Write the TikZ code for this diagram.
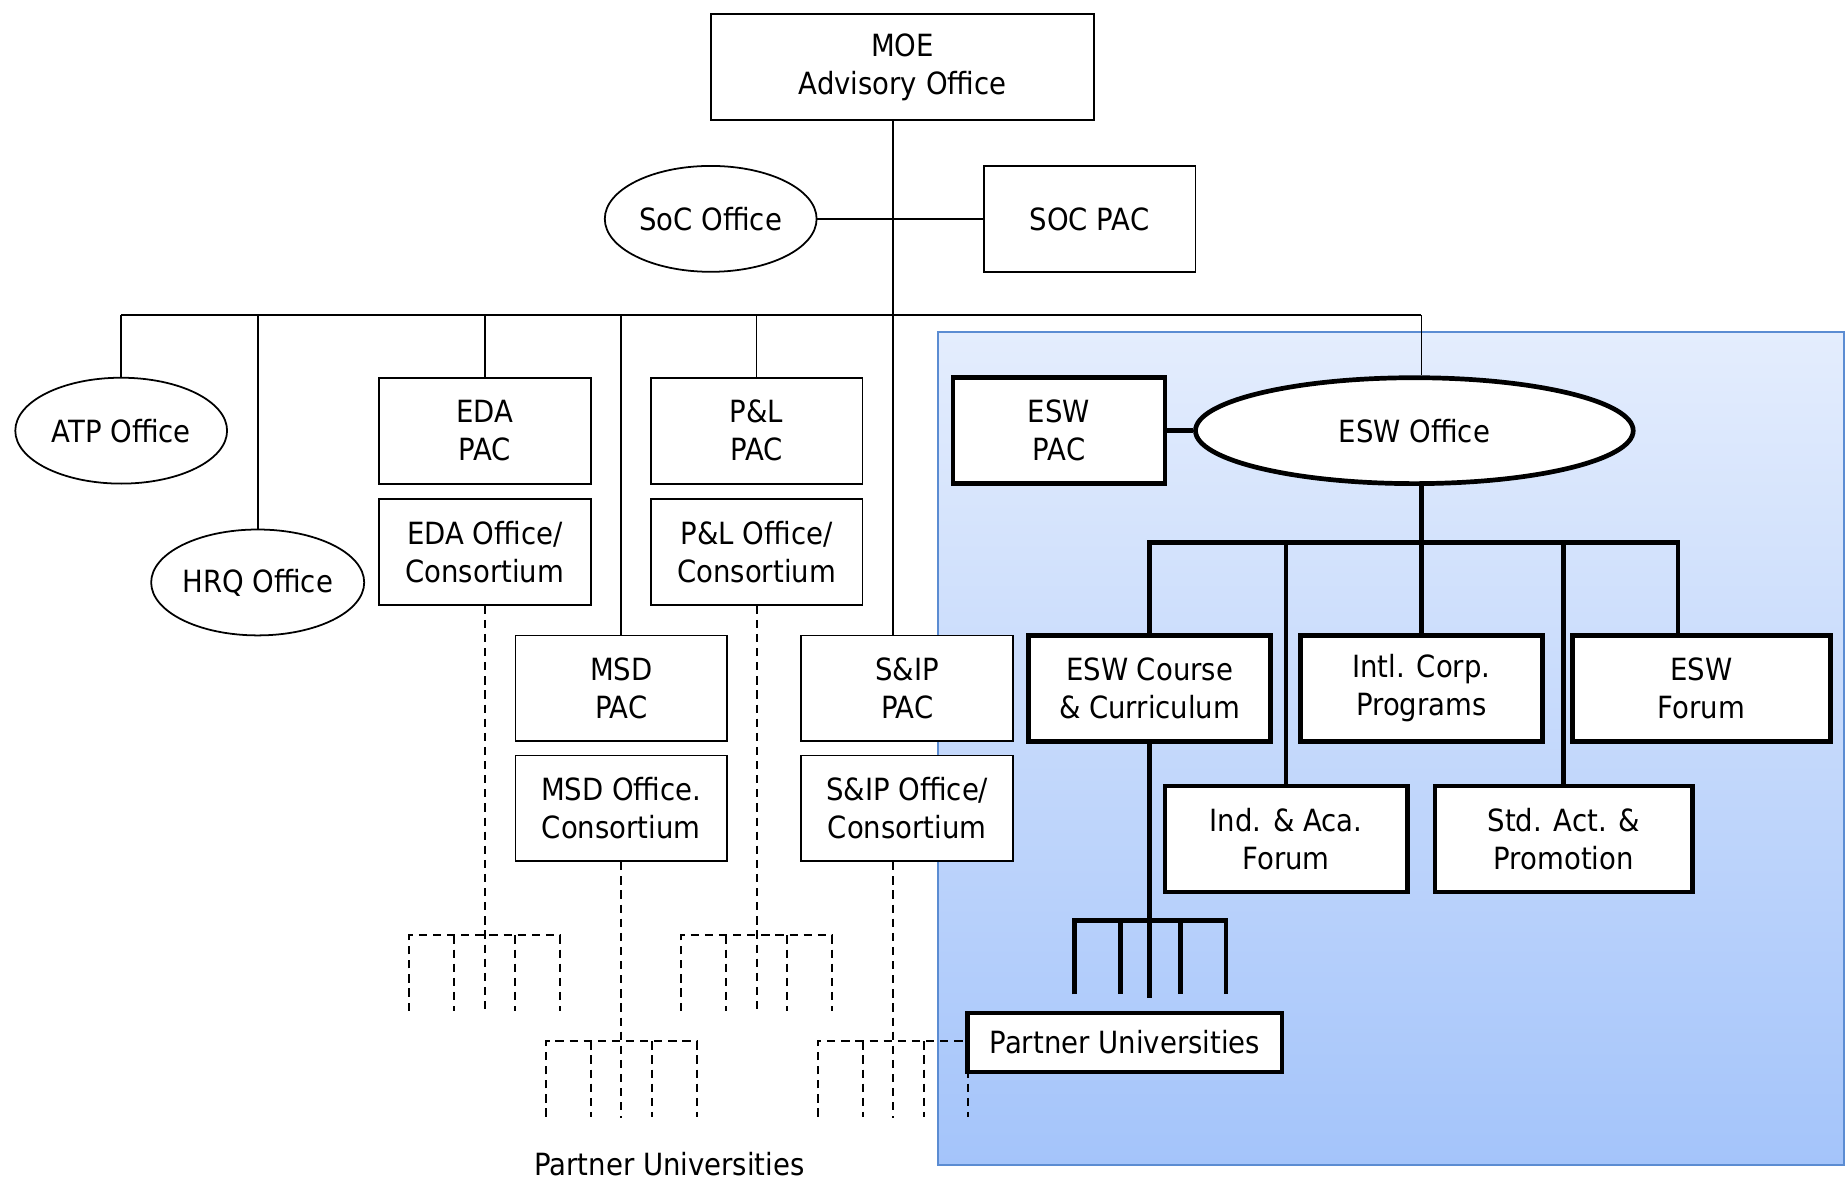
\documentclass[tikz,border=0pt]{standalone}
\usepackage{fontspec}
\setmainfont{DejaVu Sans}[FakeStretch=0.9]
\usetikzlibrary{positioning,shapes,calc}
\definecolor{eswtop}{RGB}{228,237,253}
\definecolor{eswbot}{RGB}{164,196,250}
\definecolor{eswedge}{RGB}{91,140,210}

\begin{document}
\begin{tikzpicture}[x=1pt,y=-1pt]
    \tikzstyle{every node}=[align=center,inner sep=0,font=\fontsize{26}{32}\selectfont]
    \tikzstyle{unit}=[draw,rectangle,fill=white,line width=1.5,minimum width=180,minimum height=90]
    \tikzstyle{office}=[draw,ellipse,fill=white,line width=1.5,minimum width=180,minimum height=90]
    \tikzstyle{link}=[line width=1.5]
    \tikzstyle{heavy}=[line width=4]
    \tikzstyle{weaklink}=[line width=1.7,dash pattern=on 7 off 5]
    \useasboundingbox (0,0) rectangle (1568,1005);
    {
        % ESW area
        \shade[top color=eswtop,bottom color=eswbot,draw=eswedge,line width=1.5] (797,282) rectangle (1567,990);

        \node[unit,minimum width=325] (moe) at (767,57) {MOE\\Advisory Office};
        \node[office] (soc) at (604,186) {SoC Office};
        \node[unit] (socpac) at (926,186) {SOC PAC};

        \node[office] (atp) at (103,366) {ATP Office};
        \node[office] (hrq) at (219,495) {HRQ Office};
        \node[unit] (edapac) at (412,366) {EDA\\PAC};
        \node[unit] (edaoff) at (412,469) {EDA Office/\\Consortium};
        \node[unit] (pnlpac) at (643,366) {P\&L\\PAC};
        \node[unit] (pnloff) at (643,469) {P\&L Office/\\Consortium};
        \node[unit] (msdpac) at (528,585) {MSD\\PAC};
        \node[unit] (msdoff) at (528,687) {MSD Office.\\Consortium};
        \node[unit] (sippac) at (771,585) {S\&IP\\PAC};
        \node[unit] (sipoff) at (771,687) {S\&IP Office/\\Consortium};

        \node[unit,heavy] (eswpac) at (900,366) {ESW\\PAC};
        \node[office,heavy,minimum width=372] (eswoff) at (1202,366) {ESW Office};
        \node[unit,heavy,minimum width=206] (course) at (977,585) {ESW Course\\\& Curriculum};
        \node[unit,heavy,minimum width=206] (intl) at (1208,585) {Intl. Corp.\\Programs};
        \node[unit,heavy,minimum width=219] (forum) at (1446,585) {ESW\\Forum};
        \node[unit,heavy,minimum width=206] (indaca) at (1093,713) {Ind. \& Aca.\\Forum};
        \node[unit,heavy,minimum width=219] (stdact) at (1329,713) {Std. Act. \&\\Promotion};
        \node[unit,heavy,minimum width=267,minimum height=50] (partner) at (956,886) {Partner Universities};

        \node (pu) at (569,989) {Partner Universities};

        \coordinate (spine) at (759,0);
        \coordinate (bus) at (0,268);
        \coordinate (ebus) at (0,461);
        \coordinate (fdrop) at ([xshift=-20]forum.north);

        % upper tree
        \draw[link] (moe.south -| spine) -- (sippac.north -| spine);
        \draw[link] (soc.east) -- (socpac.west);
        \draw[link] (atp.north |- bus) -- (intl.north |- bus);
        \foreach \n in {atp,hrq,edapac,pnlpac,msdpac}
            \draw[link] (\n.north |- bus) -- (\n.north);
        \draw[link] (intl.north |- bus) -- (intl.north |- eswoff.north);

        % ESW tree
        \draw[heavy] (eswpac.east) -- (eswoff.west);
        \draw[heavy] (intl.north |- eswoff.south) -- (intl.north);
        \draw[heavy] (course.north) |- (fdrop |- ebus) -- (fdrop);
        \draw[heavy] (indaca.north |- ebus) -- (indaca.north);
        \draw[heavy] (stdact.north |- ebus) -- (stdact.north);
        \draw[heavy] (course.south) -- ++(0,216);
        \draw[heavy] (913,845) -- (913,782) -- (1042,782) -- (1042,845);
        \foreach \x in {952,1003}
            \draw[heavy] (\x,782) -- (\x,845);

        % partner universities of the other offices
        \draw[weaklink] (edaoff.south) -- ++(0,347);
        \draw[weaklink] (pnloff.south) -- ++(0,347);
        \draw[weaklink] (msdoff.south) -- ++(0,217);
        \draw[weaklink] (sipoff.south -| spine) -- ++(0,217);
        \foreach \cx/\ry in {412/795,643/795,528/885,759/885}{
            \draw[weaklink] (\cx-64,\ry+64) -- (\cx-64,\ry) -- (\cx+64,\ry) -- (\cx+64,\ry+64);
            \foreach \dx in {-26,26}
                \draw[weaklink] (\cx+\dx,\ry) -- (\cx+\dx,\ry+64);
        }
    }
\end{tikzpicture}
\end{document}
